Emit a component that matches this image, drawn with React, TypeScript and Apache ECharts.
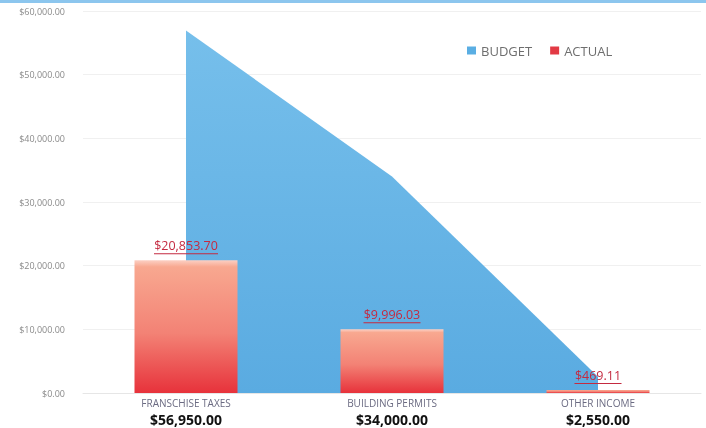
import React, { useEffect, useRef } from "react";
import * as echarts from "echarts";

const categories = ["FRANSCHISE TAXES", "BUILDING PERMITS", "OTHER INCOME"];
const budget = [56950, 34000, 2550];
const actual = [20853.7, 9996.03, 469.11];

const money = (v: number) =>
  "$" + v.toLocaleString("en-US", { minimumFractionDigits: 2, maximumFractionDigits: 2 });

const LABEL_FONT = "12.5px 'Open Sans'";
const measure = (s: string) => {
  const c = document.createElement("canvas").getContext("2d");
  if (!c) return s.length * 7;
  c.font = LABEL_FONT;
  return Math.ceil(c.measureText(s).width);
};

export default function App() {
  const ref = useRef<HTMLDivElement>(null);
  useEffect(() => {
    if (!ref.current) return;
    const chart = echarts.init(ref.current, null, { renderer: "svg" });
    chart.setOption({
      animation: false,
      textStyle: { fontFamily: "Open Sans" },
      graphic: [
        {
          type: "rect",
          left: 0,
          top: 0,
          shape: { width: 706, height: 3 },
          style: { fill: "#8cc6ee" },
          silent: true,
        },
      ],
      legend: {
        top: 39,
        left: 462,
        icon: "rect",
        itemWidth: 9,
        itemHeight: 8,
        itemGap: 18,
        textStyle: { color: "#6e6e6e", fontSize: 13, fontFamily: "Open Sans" },
        data: [
          { name: "BUDGET", itemStyle: { color: "#5aaee3" } },
          { name: "ACTUAL", itemStyle: { color: "#e23a44" } },
        ],
      },
      grid: { left: 83, right: 5, top: 11, bottom: 35 },
      xAxis: {
        type: "category",
        data: categories,
        boundaryGap: true,
        axisLine: { show: true, lineStyle: { color: "#e6e6e6" } },
        axisTick: { show: false },
        axisLabel: {
          margin: 3,
          interval: 0,
          formatter: (val: string, idx: number) => `{c|${val}}\n{v|${money(budget[idx])}}`,
          rich: {
            c: { fontSize: 10, color: "#6b6b82", fontFamily: "Open Sans", lineHeight: 14 },
            v: { fontSize: 14, color: "#111", fontWeight: "bold", fontFamily: "Open Sans", lineHeight: 18 },
          },
        },
      },
      yAxis: {
        type: "value",
        min: 0,
        max: 60000,
        interval: 10000,
        axisLine: { show: false },
        axisTick: { show: false },
        axisLabel: {
          margin: 18,
          fontSize: 9,
          color: "#8a8a8a",
          formatter: (v: number) => money(v),
        },
        splitLine: { lineStyle: { color: "#f0f0f0" } },
      },
      series: [
        {
          name: "BUDGET",
          type: "line",
          data: budget,
          symbol: "none",
          z: 1,
          lineStyle: { width: 0 },
          itemStyle: { color: "#5aaee3" },
          areaStyle: {
            opacity: 1,
            color: new echarts.graphic.LinearGradient(0, 0, 0, 1, [
              { offset: 0, color: "#76bfeb" },
              { offset: 1, color: "#5aabe1" },
            ]),
          },
        },
        {
          name: "ACTUAL",
          type: "bar",
          data: actual.map((v) => ({
            value: v,
            label: {
              rich: {
                u: { width: measure(money(v)), height: 1, lineHeight: 1, fontSize: 1, backgroundColor: "#c42a40" },
              },
            },
          })),
          barWidth: "50%",
          z: 3,
          itemStyle: {
            color: new echarts.graphic.LinearGradient(0, 0, 0, 1, [
              { offset: 0, color: "#fcd0c4" },
              { offset: 0.05, color: "#f8a890" },
              { offset: 0.55, color: "#f38275" },
              { offset: 1, color: "#e7323b" },
            ]),
          },
          label: {
            show: true,
            position: "top",
            distance: 6,
            formatter: (p: any) => `{t|${money(p.value)}}\n{u| }`,
            rich: {
              t: { fontSize: 12.5, color: "#c42a40", fontFamily: "Open Sans", lineHeight: 15 },
              u: { width: 60, height: 1, lineHeight: 1, fontSize: 1, backgroundColor: "#c42a40" },
            },
          },
        },
      ],
    });
    return () => chart.dispose();
  }, []);
  return <div ref={ref} style={{ width: 706, height: 428, position: "fixed", left: 0, top: 0 }} />;
}
